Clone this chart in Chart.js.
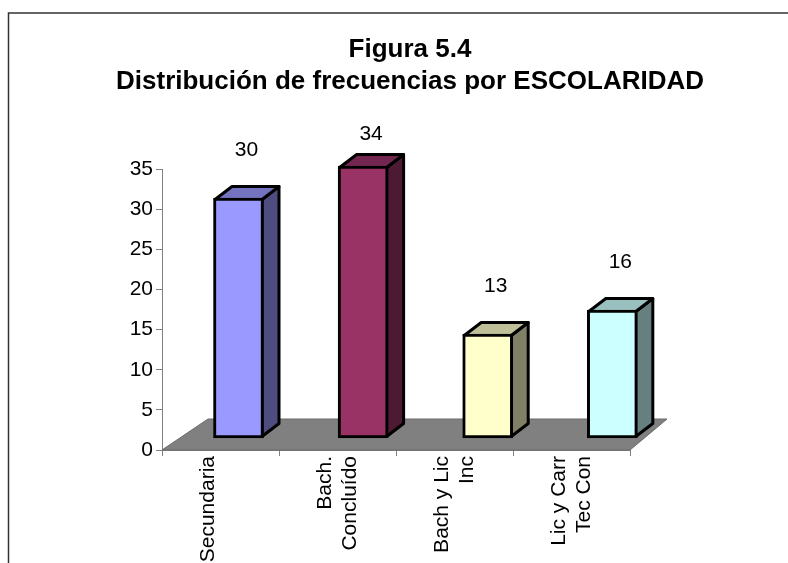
<!DOCTYPE html>
<html>
<head>
<meta charset="utf-8">
<title>Figura 5.4</title>
<script src="https://cdn.jsdelivr.net/npm/chart.js"></script>
<style>
    body { margin: 0; background: #fff; }
    canvas { display: block; }
</style>
</head>
<body>
<canvas id="escolaridadChart" width="788" height="563"></canvas>
<script>
// Datos de la figura
const titleLines = ['Figura 5.4', 'Distribución de frecuencias por ESCOLARIDAD'];
const categories = [['Secundaria', ''], ['Bach.', 'Concluído'], ['Bach y Lic', 'Inc'], ['Lic y Carr', 'Tec Con']];
const frequencies = [30, 34, 13, 16];
const yMax = 35;
const yStep = 5;

// Colores estilo Excel: cara frontal, superior y lateral
const frontColors = ['#9999ff', '#993366', '#ffffcc', '#ccffff'];
const topColors = ['#7373bf', '#732650', '#bfbf99', '#99bfbf'];
const sideColors = ['#4d4d80', '#4d1a33', '#808066', '#668080'];

const font = "'Liberation Sans', Arial, sans-serif";
const depthX = 17;
const depthY = 13;

// Marco, titulo y piso gris
const decorPlugin = {
    id: 'decor',
    beforeDraw(chart) {
        const ctx = chart.ctx;
        ctx.save();
        ctx.fillStyle = '#fff';
        ctx.fillRect(0, 0, chart.width, chart.height);
        ctx.strokeStyle = '#333';
        ctx.lineWidth = 1.5;
        ctx.beginPath();
        ctx.moveTo(8.5, chart.height + 5);
        ctx.lineTo(8.5, 13);
        ctx.lineTo(chart.width + 5, 13);
        ctx.stroke();

        ctx.fillStyle = '#000';
        ctx.font = 'bold 26px ' + font;
        ctx.textAlign = 'center';
        ctx.textBaseline = 'alphabetic';
        titleLines.forEach((line, i) => ctx.fillText(line, 410, 57 + i * 32));
        ctx.restore();
    },
    beforeDatasetsDraw(chart) {
        const ctx = chart.ctx;
        const area = chart.chartArea;
        const y0 = chart.scales.y.getPixelForValue(0);
        ctx.save();
        // piso
        ctx.fillStyle = '#808080';
        ctx.strokeStyle = '#6a6a6a';
        ctx.lineWidth = 1;
        ctx.beginPath();
        ctx.moveTo(area.left, y0);
        ctx.lineTo(area.right, y0);
        ctx.lineTo(area.right + 37, y0 - 31);
        ctx.lineTo(area.left + 46, y0 - 31);
        ctx.closePath();
        ctx.fill();
        ctx.stroke();

        // caras superior y lateral de cada barra
        const meta = chart.getDatasetMeta(0);
        ctx.lineWidth = 3;
        ctx.lineJoin = 'round';
        ctx.strokeStyle = '#000';
        meta.data.forEach((bar, i) => {
            const l = bar.x - bar.width / 2 + 1.5;
            const r = bar.x + bar.width / 2 - 1.5;
            const t = bar.y + 1.5;
            const b = bar.base - 1.5;

            ctx.fillStyle = sideColors[i];
            ctx.beginPath();
            ctx.moveTo(r, t);
            ctx.lineTo(r + depthX, t - depthY);
            ctx.lineTo(r + depthX, b - depthY);
            ctx.lineTo(r, b);
            ctx.closePath();
            ctx.fill();
            ctx.stroke();

            ctx.fillStyle = topColors[i];
            ctx.beginPath();
            ctx.moveTo(l, t);
            ctx.lineTo(l + depthX, t - depthY);
            ctx.lineTo(r + depthX, t - depthY);
            ctx.lineTo(r, t);
            ctx.closePath();
            ctx.fill();
            ctx.stroke();
        });
        ctx.restore();
    },
    afterDatasetsDraw(chart) {
        // etiquetas de valor
        const ctx = chart.ctx;
        const meta = chart.getDatasetMeta(0);
        ctx.save();
        ctx.fillStyle = '#000';
        ctx.font = '21px ' + font;
        ctx.textAlign = 'center';
        ctx.textBaseline = 'middle';
        meta.data.forEach((bar, i) => {
            const y = Math.max(bar.y - 48, chart.chartArea.top - 35);
            ctx.fillText(String(frequencies[i]), bar.x + 8, y);
        });
        ctx.restore();
    }
};

const ctx = document.getElementById('escolaridadChart').getContext('2d');
const escolaridadChart = new Chart(ctx, {
    type: 'bar',
    data: {
        labels: categories,
        datasets: [{
            data: frequencies.map((v, i) => ({ x: i, y: v })),
            xAxisID: 'xb',
            yAxisID: 'yb',
            backgroundColor: frontColors,
            borderColor: '#000',
            borderWidth: 3,
            borderSkipped: false,
            barThickness: 50,
            clip: false
        }]
    },
    options: {
        responsive: false,
        animation: false,
        layout: {
            padding: { top: 169, right: 158, bottom: 0, left: 0 }
        },
        plugins: {
            legend: { display: false },
            title: { display: false },
            tooltip: { enabled: false }
        },
        scales: {
            x: {
                type: 'category',
                offset: true,
                grid: {
                    offset: true,
                    drawOnChartArea: false,
                    tickLength: 6,
                    color: '#808080'
                },
                border: { color: '#808080' },
                ticks: {
                    color: '#000',
                    font: { family: font, size: 21 },
                    minRotation: 90,
                    maxRotation: 90,
                    autoSkip: false,
                    padding: 0,
                    labelOffset: -12
                },
                afterFit(scale) { scale.height = 113; }
            },
            y: {
                type: 'linear',
                position: 'left',
                min: 0,
                max: yMax,
                grid: {
                    drawOnChartArea: false,
                    tickLength: 6,
                    color: '#808080'
                },
                border: { color: '#808080' },
                ticks: {
                    stepSize: yStep,
                    color: '#000',
                    font: { family: font, size: 21 },
                    padding: 3
                },
                afterFit(scale) { scale.width = 162; }
            },
            // ejes ocultos para las barras en perspectiva
            xb: {
                type: 'linear',
                display: false,
                offset: false,
                grid: { offset: false },
                min: -0.614,
                max: 3.142
            },
            yb: {
                type: 'linear',
                display: false,
                min: -1.5,
                max: 33.625
            }
        }
    },
    plugins: [decorPlugin]
});
</script>
</body>
</html>
